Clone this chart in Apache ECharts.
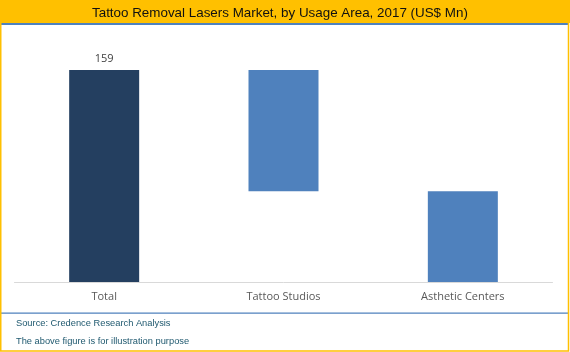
<!DOCTYPE html>
<html><head><meta charset="utf-8">
<script src="https://cdn.jsdelivr.net/npm/echarts@6/dist/echarts.min.js"></script>
<style>html,body{margin:0;padding:0;background:#fff}#c{width:570px;height:352px}</style>
</head><body><div id="c"></div>
<script>
const categories = ['Total', 'Tattoo Studios', 'Asthetic Centers'];
const values = [159, 91, 68];
const isTotal = [true, false, false];
const titleText = 'Tattoo Removal Lasers Market, by Usage Area, 2017 (US$ Mn)';
const notes = ['Source: Credence Research Analysis', 'The above figure is for illustration purpose'];

// waterfall base: each component bar hangs below the running remainder
const base = [];
let running = values[0];
for (let i = 0; i < values.length; i++) {
  if (isTotal[i]) { base.push(0); }
  else { running -= values[i]; base.push(running); }
}

const chart = echarts.init(document.getElementById('c'), null, {renderer: 'canvas'});
chart.setOption({
  animation: false,
  backgroundColor: '#fff',
  title: {
    text: titleText, left: 87, top: 2,
    textStyle: {fontFamily: 'Liberation Sans', fontSize: 13.4, fontWeight: 'normal', color: '#111'}
  },
  graphic: [
    {type: 'rect', shape: {x: 0, y: 0, width: 570, height: 23}, style: {fill: '#FFC000'}, z: -1},
    {type: 'rect', shape: {x: 1, y: 23, width: 567, height: 2}, style: {fill: '#4F81BD'}, z: 1},
    {type: 'rect', shape: {x: 1, y: 312.5, width: 567, height: 1.2}, style: {fill: '#4F81BD'}, z: 1},
    {type: 'rect', shape: {x: 0.75, y: 0.5, width: 567.75, height: 350.5}, style: {fill: 'none', stroke: '#FFC000', lineWidth: 1.5}, z: 2},
    {type: 'text', left: 16, top: 319, style: {text: notes[0], font: '9.3px "Liberation Sans"', fill: '#215A70'}},
    {type: 'text', left: 16, top: 337, style: {text: notes[1], font: '9.3px "Liberation Sans"', fill: '#215A70'}}
  ],
  grid: {left: 14.5, right: 17.5, top: 70, bottom: 70, containLabel: false},
  xAxis: {
    type: 'category', data: categories,
    axisLine: {lineStyle: {color: '#D9D9D9'}},
    axisTick: {show: false},
    axisLabel: {color: '#595959', fontFamily: 'Open Sans', fontSize: 11, margin: 9}
  },
  yAxis: {type: 'value', min: 0, max: 159, show: false, splitLine: {show: false}},
  series: [
    {type: 'bar', stack: 'w', data: base, itemStyle: {color: 'transparent'}, barWidth: 70, silent: true},
    {type: 'bar', stack: 'w', barWidth: 70,
     data: values.map((v, i) => ({value: v, itemStyle: {color: isTotal[i] ? '#243F60' : '#4F81BD'},
       label: {show: isTotal[i], position: 'top', distance: 6, color: '#404040', fontFamily: 'Open Sans', fontSize: 11}}))}
  ]
});
</script></body></html>
